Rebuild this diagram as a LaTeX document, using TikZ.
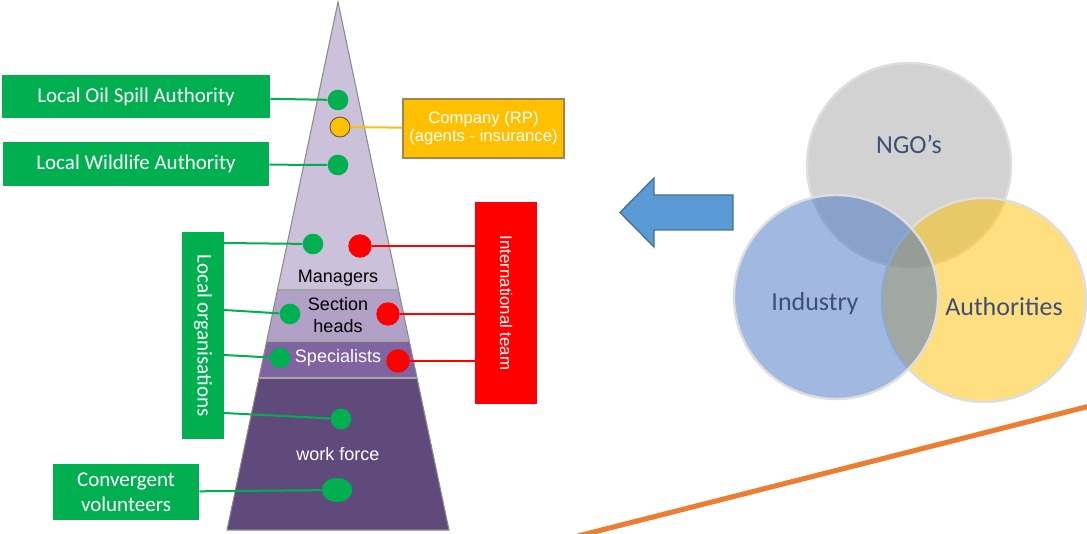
\documentclass[tikz,border=0pt]{standalone}
\usepackage{fontspec}
\setmainfont{Carlito}
\newfontfamily\arialfont{Liberation Sans}
\usepackage{tikz}
\usetikzlibrary{calc}
\usetikzlibrary{positioning}
\usetikzlibrary{shapes}

\definecolor{ogreen}{HTML}{00B050}
\definecolor{ored}{HTML}{FF0000}
\definecolor{ogold}{HTML}{FFC000}
\definecolor{obrown}{HTML}{A5834A}
\definecolor{bandA}{HTML}{CCC1DA}
\definecolor{bandB}{HTML}{B2A1C7}
\definecolor{bandC}{HTML}{8064A2}
\definecolor{bandD}{HTML}{604A7B}
\definecolor{arrowblue}{HTML}{5B9BD5}
\definecolor{arrowedge}{HTML}{41719C}
\definecolor{venngray}{HTML}{A5A5A5}
\definecolor{vennblue}{HTML}{4472C4}
\definecolor{venntext}{HTML}{3E4F77}
\definecolor{oline}{HTML}{ED7D31}

\begin{document}
\begin{tikzpicture}[x=0.75pt, y=-0.75pt,
		gbox/.style={fill=ogreen, text=white, font=\fontsize{15.75}{19}\selectfont, align=center, inner sep=0pt},
		gdot/.style={circle, fill=ogreen, minimum size=15.5pt, inner sep=0pt},
		rdot/.style={circle, fill=ored, minimum size=17.5pt, inner sep=0pt},
		gline/.style={draw=ogreen, line width=1.5pt},
		rline/.style={draw=ored, line width=2.2pt},
		lvl/.style={font=\arialfont\fontsize{13.5}{16.5}\selectfont, align=center, inner sep=0pt},
		venn/.style={circle, minimum size=153pt, fill opacity=0.5, draw=black!13, line width=1.8pt, draw opacity=1},
		vtext/.style={text=venntext, font=\fontsize{19.5}{23}\selectfont}]
	\useasboundingbox (0,0) rectangle (1087,534);

	\coordinate (top) at (338,2);
	\coordinate (bl) at (227,530);
	\coordinate (br) at (449,530);
	\begin{scope}
		\clip (top) -- (bl) -- (br) -- cycle;
		\fill[bandA] (200,0) rectangle (480,290);
		\fill[bandB] (200,290) rectangle (480,341);
		\fill[bandC] (200,341) rectangle (480,378);
		\fill[bandD] (200,378) rectangle (480,534);
	\end{scope}
	\path[draw, black!35, line width=0.8pt] ($(top)!0.5455!(bl)$) -- ($(top)!0.5455!(br)$);
	\path[draw, black!35, line width=0.8pt] ($(top)!0.6420!(bl)$) -- ($(top)!0.6420!(br)$);
	\path[draw, black!35, line width=0.8pt] ($(top)!0.7121!(bl)$) -- ($(top)!0.7121!(br)$);
	\path[draw, black!45, line width=0.8pt] (top) -- (bl) -- (br) -- cycle;

	\node[lvl] (mgr) at (338,278) {Managers};
	\node[lvl] (sec) at (338,315) {Section\\heads};
	\node[lvl, text=white] (spec) at (338,358) {Specialists};
	\node[lvl, text=white] (work) at (338,454) {work force};

	\node[gbox, minimum width=201pt, minimum height=32pt] (oil) at (136,96.5) {Local Oil Spill Authority};
	\node[gbox, minimum width=199.5pt, minimum height=33pt] (wild) at (136,164) {Local Wildlife Authority};
	\node[gbox, rotate=-90, minimum width=155pt, minimum height=31.5pt] (locorg) at (203,335.5) {Local organisations};
	\node[gbox, minimum width=109.5pt, minimum height=42pt] (conv) at (126,492) {Convergent\\volunteers};
	\node[fill=ored, text=white, rotate=-90, minimum width=151.5pt, minimum height=46.5pt, inner sep=0pt,
		font=\arialfont\fontsize{12.6}{15}\selectfont] (intl) at (506,303) {International team};
	\node[fill=ogold, draw=obrown, line width=0.8pt, text=white, align=center, minimum width=120.75pt, minimum height=44.25pt,
		inner sep=0pt, font=\arialfont\fontsize{12.5}{13.5}\selectfont] (company) at (483.5,128.5) {Company (RP)\\(agents - insurance)};

	\coordinate (o1) at (224,243);
	\coordinate (o2) at (224,310);
	\coordinate (o3) at (224,355);
	\coordinate (o4) at (224,413);
	\coordinate (i1) at (475,246);
	\coordinate (i2) at (475,314);
	\coordinate (i3) at (475,361);

	\node[gdot] (d1) at (338,100) {};
	\node[circle, fill=ogold, draw=obrown!70!black, line width=0.7pt, minimum size=15pt, inner sep=0pt] (comp) at (340,127) {};
	\node[gdot] (d2) at (338,165) {};
	\node[gdot] (lo1) at (313,244) {};
	\node[gdot] (lo2) at (290,314) {};
	\node[gdot] (lo3) at (280,358) {};
	\node[gdot] (lo4) at (341,419) {};
	\node[ellipse, fill=ogreen, minimum width=23pt, minimum height=18pt, inner sep=0pt] (cv) at (337,490) {};
	\node[rdot] (r1) at (360,246) {};
	\node[rdot] (r2) at (388,314) {};
	\node[rdot] (r3) at (398,361) {};

	\path[gline] (oil) -- (d1);
	\path[gline] (wild) -- (d2);
	\path[gline] (o1) -- (lo1);
	\path[gline] (o2) -- (lo2);
	\path[gline] (o3) -- (lo3);
	\path[gline] (o4) -- (lo4);
	\path[gline] (conv) -- (cv);
	\path[draw=ogold, line width=1.5pt] (comp) -- (company);
	\path[rline] (r1) -- (i1);
	\path[rline] (r2) -- (i2);
	\path[rline] (r3) -- (i3);

	\path[draw=arrowedge, fill=arrowblue, line width=1pt] (733,195) -- (654,195) -- (654,178) -- (620,212.5)
		-- (654,247) -- (654,230) -- (733,230) -- cycle;

	\node[venn, fill=venngray] (ngo) at (909,165) {};
	\node[venn, fill=ogold] (auth) at (984,300) {};
	\node[venn, fill=vennblue] (ind) at (836,297) {};
	\node[vtext] at (909,144) {NGO’s};
	\node[vtext] at (815,304) {Industry};
	\node[vtext] at (1004,307) {Authorities};

	\path[draw=oline, line width=3.8pt] (578,536) -- (1090,406);
\end{tikzpicture}
\end{document}
